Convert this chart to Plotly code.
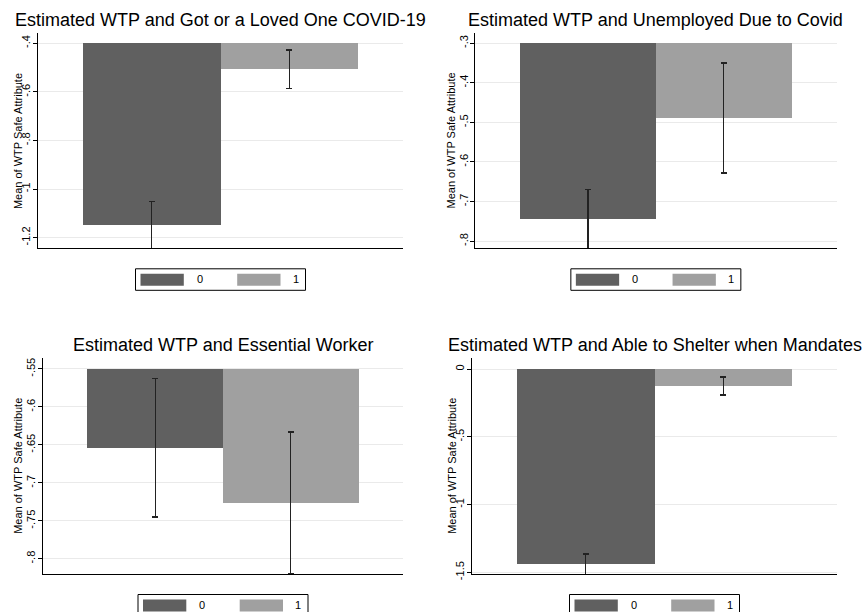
import plotly.graph_objects as go

# ---------------- data ----------------
titles = [
    "Estimated WTP and Got or a Loved One COVID-19",
    "Estimated WTP and Unemployed Due to Covid",
    "Estimated WTP and Essential Worker",
    "Estimated WTP and Able to Shelter when Mandates",
]
groups = ["0", "1"]
mean_group0 = [-1.149, -0.744, -0.654, -1.440]
mean_group1 = [-0.507, -0.489, -0.726, -0.125]
ci_group0 = [0.097, 0.074, 0.091, 0.076]
ci_group1 = [0.079, 0.139, 0.093, 0.066]
tick_vals = [
    [-1.2, -1.0, -0.8, -0.6, -0.4],
    [-0.8, -0.7, -0.6, -0.5, -0.4, -0.3],
    [-0.8, -0.75, -0.7, -0.65, -0.6, -0.55],
    [-1.5, -1.0, -0.5, 0.0],
]
tick_text = [
    ["-1.2", "-1", "-.8", "-.6", "-.4"],
    ["-.8", "-.7", "-.6", "-.5", "-.4", "-.3"],
    ["-.8", "-.75", "-.7", "-.65", "-.6", "-.55"],
    ["-1.5", "-1", "-.5", "0"],
]
y_axis_title = "Mean of WTP Safe Attribute"

# ---------------- layout / style ----------------
W, H = 865, 612
FONT = "Liberation Sans, Arial, Helvetica, sans-serif"
colors = ["#606060", "#a0a0a0"]

# plot areas in pixels: (x0, x1, y0_top, y1_bottom)
areas = [
    (37.7, 403.3, 33.3, 248.3),
    (475.0, 836.7, 33.3, 248.3),
    (42.7, 403.3, 358.3, 574.0),
    (471.7, 837.3, 358.3, 574.0),
]
y_ranges = [
    (-1.244, -0.359),
    (-0.818, -0.275),
    (-0.820, -0.536),
    (-1.5125, 0.0795),
]
x_range = (-0.83, 1.83)
ytitle_x = [18.3, 450.7, 17.7, 451.7]

fig = go.Figure()
shapes = []
annotations = []

def px(x):
    return x / W

def py(y):
    return 1 - y / H

for i in range(4):
    n = "" if i == 0 else str(i + 1)
    base = max(tick_vals[i])
    vals = [mean_group0[i], mean_group1[i]]
    errs = [ci_group0[i], ci_group1[i]]
    fig.add_trace(go.Bar(
        x=[0, 1],
        y=[v - base for v in vals],
        base=[base, base],
        width=[1, 1],
        marker=dict(color=colors, line=dict(width=0)),
        error_y=dict(type="data", array=errs, visible=True,
                     color="#222222", thickness=1.3, width=3),
        showlegend=False,
        xaxis="x" + n, yaxis="y" + n,
        hoverinfo="skip",
    ))
    x0, x1, yt, yb = areas[i]
    fig.layout["xaxis" + n] = dict(
        domain=[px(x0), px(x1)], range=list(x_range),
        showline=True, linecolor="black", linewidth=1,
        showticklabels=False, ticks="", showgrid=False, zeroline=False,
        anchor="y" + n, fixedrange=True, automargin=False,
    )
    fig.layout["yaxis" + n] = dict(
        domain=[py(yb), py(yt)], range=list(y_ranges[i]),
        tickvals=tick_vals[i], ticktext=tick_text[i], tickangle=-90,
        ticks="outside", ticklen=4, tickcolor="black", tickwidth=1,
        ticklabelstandoff=-2,
        tickfont=dict(family=FONT, size=11, color="black"),
        showline=True, linecolor="black", linewidth=1,
        showgrid=True, gridcolor="#eaeaea", gridwidth=1, zeroline=False,
        anchor="x" + n, fixedrange=True, automargin=False,
    )
    cx = (x0 + x1) / 2
    # title
    annotations.append(dict(
        text=titles[i], x=px(cx), y=py(yt - 1), xref="paper", yref="paper",
        xanchor="center", yanchor="bottom", showarrow=False,
        font=dict(family=FONT, size=18, color="black"),
    ))
    # y axis title
    annotations.append(dict(
        text=y_axis_title, x=px(ytitle_x[i]), y=py((yt + yb) / 2),
        xref="paper", yref="paper", xanchor="center", yanchor="middle",
        textangle=-90, showarrow=False,
        font=dict(family=FONT, size=11, color="black"),
    ))
    # legend box
    lx0 = cx - 85
    ly0 = yb + 20.5
    shapes.append(dict(type="rect", xref="paper", yref="paper",
                       x0=px(lx0), x1=px(lx0 + 170), y0=py(ly0 + 21.5), y1=py(ly0),
                       line=dict(color="black", width=1), fillcolor="white"))
    for g in range(2):
        sx = lx0 + 5 + g * 96.7
        shapes.append(dict(type="rect", xref="paper", yref="paper",
                           x0=px(sx), x1=px(sx + 43.3), y0=py(ly0 + 17), y1=py(ly0 + 5),
                           line=dict(width=0), fillcolor=colors[g]))
        annotations.append(dict(
            text=groups[g], x=px(lx0 + 64 + g * 96), y=py(ly0 + 10.5),
            xref="paper", yref="paper", xanchor="center", yanchor="middle",
            showarrow=False, font=dict(family=FONT, size=11, color="black"),
        ))

fig.update_layout(
    width=W, height=H,
    margin=dict(l=0, r=0, t=0, b=0, autoexpand=False),
    paper_bgcolor="white", plot_bgcolor="white",
    shapes=shapes, annotations=annotations,
    barmode="overlay", bargap=0,
)

fig.write_html("out.html",
               config={"displayModeBar": False, "staticPlot": True},
               post_script="document.body.style.margin='0';document.body.style.overflow='hidden';")
